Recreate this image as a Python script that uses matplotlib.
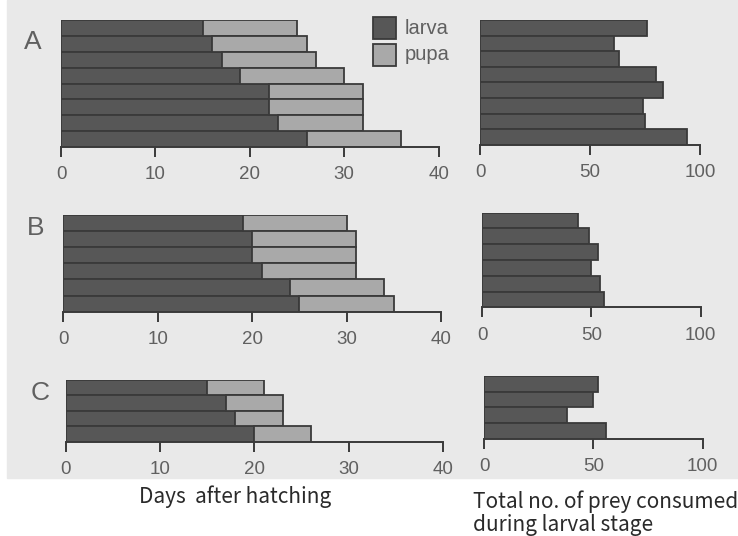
import matplotlib
matplotlib.use("Agg")
import matplotlib.pyplot as plt
from matplotlib.patches import Rectangle

# days after hatching: end of larval stage and end of pupal stage (top row first)
larva_A = [15, 16, 17, 19, 22, 22, 23, 26]
total_A = [25, 26, 27, 30, 32, 32, 32, 36]
larva_B = [19, 20, 20, 21, 24, 25]
total_B = [30, 31, 31, 31, 34, 35]
larva_C = [15, 17, 18, 20]
total_C = [21, 23, 23, 26]

# total no. of prey consumed during larval stage
prey_A = [76, 61, 63, 80, 83, 74, 75, 94]
prey_B = [44, 49, 53, 50, 54, 56]
prey_C = [52, 50, 38, 56]

days_ticks = [0, 10, 20, 30, 40]
prey_ticks = [0, 50, 100]

W, H = 738, 536
DARK = "#575757"
LIGHT = "#a9a9a9"
EDGE = "#3a3a3a"
TXT = "#606060"
BG = "#e9e9e9"

fig = plt.figure(figsize=(W / 100, H / 100), dpi=100)
fig.patch.set_facecolor("white")
fig.patches.append(Rectangle((7 / W, 1 - 478 / H), 1, 478 / H,
                             transform=fig.transFigure, color=BG, zorder=-10))


def px_axes(x0, x1, ytop, ybot):
    return fig.add_axes([x0 / W, 1 - ybot / H, (x1 - x0) / W, (ybot - ytop) / H])


def style(ax, xmax, ticks, n):
    ax.set_xlim(0, xmax)
    ax.set_ylim(-0.5, n - 0.5)
    ax.patch.set_visible(False)
    for s in ("top", "right", "left"):
        ax.spines[s].set_visible(False)
    ax.spines["bottom"].set_color(EDGE)
    ax.spines["bottom"].set_linewidth(1.4)
    ax.spines["bottom"].set_bounds(0, xmax)
    ax.set_yticks([])
    ax.set_xticks(ticks)
    ax.tick_params(axis="x", direction="out", length=7, width=1.4, color=EDGE,
                   labelsize=13.5, labelcolor=TXT, pad=7)


def days_panel(x0, x1, ytop, ybot, larva, total, letter, lx, ly):
    ax = px_axes(x0, x1, ytop, ybot)
    n = len(larva)
    y = list(range(n - 1, -1, -1))
    pupa = [t - l for t, l in zip(total, larva)]
    ax.barh(y, larva, height=1.0, color=DARK, edgecolor=EDGE, linewidth=1.3)
    ax.barh(y, pupa, left=larva, height=1.0, color=LIGHT, edgecolor=EDGE, linewidth=1.3)
    style(ax, 40, days_ticks, n)
    fig.text(lx / W, 1 - ly / H, letter, fontsize=19, color=TXT,
             ha="center", va="center", family="Liberation Sans")
    return ax


def prey_panel(x0, x1, ytop, ybot, prey):
    ax = px_axes(x0, x1, ytop, ybot)
    n = len(prey)
    y = list(range(n - 1, -1, -1))
    ax.barh(y, prey, height=1.0, color=DARK, edgecolor=EDGE, linewidth=1.3)
    style(ax, 100, prey_ticks, n)
    return ax


plt.rcParams["font.family"] = ["Liberation Sans", "DejaVu Sans"]

days_panel(61, 438.7, 20, 147, larva_A, total_A, "A", 33, 42)
prey_panel(480, 700, 20, 145, prey_A)
days_panel(63.3, 441, 215, 311.7, larva_B, total_B, "B", 36, 228)
prey_panel(482, 700.7, 212.7, 307.3, prey_B)
days_panel(65.7, 443, 380, 441.7, larva_C, total_C, "C", 40, 393)
prey_panel(484, 702.7, 376, 438.7, prey_C)

# legend
for (yt, c, lab) in [(17, DARK, "larva"), (44, LIGHT, "pupa")]:
    fig.patches.append(Rectangle((373 / W, 1 - (yt + 22) / H), 23 / W, 22 / H,
                                 transform=fig.transFigure, facecolor=c,
                                 edgecolor=EDGE, linewidth=1.3))
    fig.text(405 / W, 1 - (yt + 11) / H, lab, fontsize=14.5, color=TXT,
             ha="left", va="center")

fig.text(235 / W, 1 - 497 / H, "Days  after hatching", fontsize=15,
         color="#2a2a2a", ha="center", va="center", family="Noto Sans CJK JP")
fig.text(473 / W, 1 - 513 / H, "Total no. of prey consumed\nduring larval stage",
         fontsize=15, color="#2a2a2a", ha="left", va="center",
         family="Noto Sans CJK JP", linespacing=1.05)

fig.savefig("out.png", dpi=100)
